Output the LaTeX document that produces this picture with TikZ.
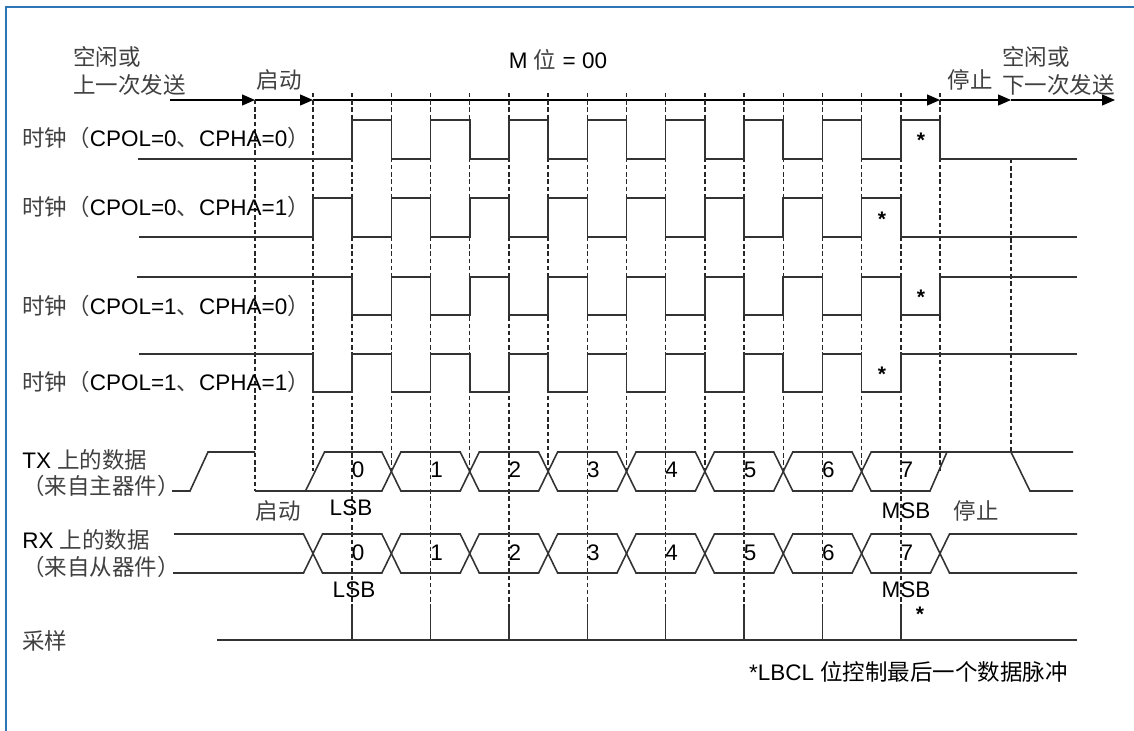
\documentclass[tikz,border=0pt]{standalone}
\usepackage{fontspec}
\setmainfont{Liberation Sans}
\newfontfamily\cjk{Noto Sans CJK SC}
\usetikzlibrary{arrows.meta}

\definecolor{frameblue}{RGB}{46,117,182}
\newcommand{\zh}[1]{{\cjk\color{black!75}#1}}
\newcommand{\edgex}[1]{313+39.1875*(#1)}

\begin{document}
\begin{tikzpicture}[
    x=0.02cm, y=-0.02cm,
    font=\fontsize{12.8}{15.9}\selectfont,
    text=black,
    >={Triangle[length=0.26cm, width=0.22cm]},
    wave/.style={line width=0.9pt, draw=black!80, line join=miter},
    guide/.style={line width=0.85pt, draw=black!85, dash pattern=on 2.5pt off 1.6pt},
    axisline/.style={->, line width=0.7pt, draw=black},
    lbl/.style={inner sep=0pt},
    bitnum/.style={inner sep=0pt},
    starmark/.style={inner sep=0pt, font=\fontsize{12}{14}\selectfont\bfseries},
]
\useasboundingbox (0,0) rectangle (1134,731);

% frame
\draw[line width=0.7pt, frameblue] (6,731) -- (6,7) -- (1134,7);

% ==================== TIME AXIS ====================
\coordinate (ax_idle)  at (170,100);
\coordinate (ax_start) at (255,100);
\coordinate (ax_bit0)  at (313,100);
\coordinate (ax_stop)  at (940,100);
\coordinate (ax_next)  at (1011,100);
\coordinate (ax_end)   at (1115,100);

\draw[axisline] (ax_idle) -- (ax_start);
\draw[axisline] (ax_start) -- (ax_bit0);
\draw[axisline] (ax_bit0) -- (ax_stop);
\draw[axisline] (ax_stop) -- (ax_next);
\draw[axisline] (ax_next) -- (ax_end);

% Top labels
\node[lbl, align=left, anchor=west] (idle_prev) at (73,71) {\zh{空闲或}\\\zh{上一次发送}};
\node[lbl] (start_top) at (279,80) {\zh{启动}};
\node[lbl] (mbit) at (558,60) {M \zh{位} = 00};
\node[lbl] (stop_top) at (970,80) {\zh{停止}};
\node[lbl, align=left, anchor=west] (idle_next) at (1002,71) {\zh{空闲或}\\\zh{下一次发送}};

% ==================== GUIDE LINES ====================
\foreach \k in {0,2,...,16}
    \draw[guide] ({\edgex{\k}},93) -- ({\edgex{\k}},471);
\foreach \k in {1,3,...,15} {
    \draw[guide] ({\edgex{\k}},93) -- ({\edgex{\k}},607);
    \draw[wave] ({\edgex{\k}},607) -- ({\edgex{\k}},640);
}
\draw[guide] (ax_start) -- (255,491);
\draw[guide] (1011,159) -- (1011,452);

% ==================== CLOCKS ====================
% CPOL=0, CPHA=0
\node[lbl, anchor=west] (clk_a) at (22,138) {\zh{时钟（}CPOL=0\zh{、}CPHA=0\zh{）}};
\draw[wave] (138,159) \foreach \i in {0,...,7} { -- ({\edgex{2*\i+1}},159) -- ({\edgex{2*\i+1}},120) -- ({\edgex{2*\i+2}},120) -- ({\edgex{2*\i+2}},159) } -- (1077,159);
\node[starmark] (star_a) at (921,140) {*};

% CPOL=0, CPHA=1
\node[lbl, anchor=west] (clk_b) at (22,207) {\zh{时钟（}CPOL=0\zh{、}CPHA=1\zh{）}};
\draw[wave] (139,237) \foreach \i in {0,...,7} { -- ({\edgex{2*\i}},237) -- ({\edgex{2*\i}},198) -- ({\edgex{2*\i+1}},198) -- ({\edgex{2*\i+1}},237) } -- (1077,237);
\node[starmark] (star_b) at (882,219) {*};

% CPOL=1, CPHA=0
\node[lbl, anchor=west] (clk_c) at (22,306) {\zh{时钟（}CPOL=1\zh{、}CPHA=0\zh{）}};
\draw[wave] (137,277) \foreach \i in {0,...,7} { -- ({\edgex{2*\i+1}},277) -- ({\edgex{2*\i+1}},315) -- ({\edgex{2*\i+2}},315) -- ({\edgex{2*\i+2}},277) } -- (1077,277);
\node[starmark] (star_c) at (921,297) {*};

% CPOL=1, CPHA=1
\node[lbl, anchor=west] (clk_d) at (22,382) {\zh{时钟（}CPOL=1\zh{、}CPHA=1\zh{）}};
\draw[wave] (139,354) \foreach \i in {0,...,7} { -- ({\edgex{2*\i}},354) -- ({\edgex{2*\i}},392) -- ({\edgex{2*\i+1}},392) -- ({\edgex{2*\i+1}},354) } -- (1077,354);
\node[starmark] (star_d) at (882,374) {*};

% ==================== TX DATA ====================
\node[lbl, anchor=west] (TX_label) at (22,460) {TX \zh{上的数据}};
\node[lbl, anchor=west] (TX_from) at (22,486) {\zh{（来自主器件）}};

\draw[wave] (172,491) -- (190,491) -- (208,452) -- (255,452);
% bit 0
\draw[wave] (255,491) -- ({\edgex{2}-9.5},491) -- ({\edgex{2}},471.5) -- ({\edgex{2}-9.5},452) -- (324.5,452) -- (305.5,491);
% bits 1..6
\foreach \j in {1,...,6}
    \draw[wave] ({\edgex{2*\j}},471.5) -- ({\edgex{2*\j}+9.5},452) -- ({\edgex{2*\j+2}-9.5},452) -- ({\edgex{2*\j+2}},471.5) -- ({\edgex{2*\j+2}-9.5},491) -- ({\edgex{2*\j}+9.5},491) -- cycle;
% bit 7 and stop
\draw[wave] (1073,452) -- ({\edgex{14}+9.5},452) -- ({\edgex{14}},471.5) -- ({\edgex{14}+9.5},491) -- (930,491) -- (947,452);
\draw[wave] (1011,452) -- (1030,491) -- (1073,491);

\foreach \j in {0,...,7}
    \node[bitnum] (TX_b\j) at ({\edgex{2*\j+1}+6},470) {\j};

\node[lbl] (TX_start) at (278,511) {\zh{启动}};
\node[lbl] (TX_lsb) at (351,508) {LSB};
\node[lbl] (TX_msb) at (906,511) {MSB};
\node[lbl] (TX_stop) at (976,511) {\zh{停止}};

% ==================== RX DATA ====================
\node[lbl, anchor=west] (RX_label) at (22,540) {RX \zh{上的数据}};
\node[lbl, anchor=west] (RX_from) at (22,567) {\zh{（来自从器件）}};

\draw[wave] (174,534) -- ({\edgex{0}-9.5},534) -- ({\edgex{0}},553.5) -- ({\edgex{0}-9.5},573) -- (173,573);
\foreach \j in {0,...,7}
    \draw[wave] ({\edgex{2*\j}},553.5) -- ({\edgex{2*\j}+9.5},534) -- ({\edgex{2*\j+2}-9.5},534) -- ({\edgex{2*\j+2}},553.5) -- ({\edgex{2*\j+2}-9.5},573) -- ({\edgex{2*\j}+9.5},573) -- cycle;
\draw[wave] (1077,534) -- ({\edgex{16}+9.5},534) -- ({\edgex{16}},553.5) -- ({\edgex{16}+9.5},573) -- (1077,573);

\foreach \j in {0,...,7}
    \node[bitnum] (RX_b\j) at ({\edgex{2*\j+1}+6},553) {\j};

\node[lbl] (RX_lsb) at (354,590) {LSB};
\node[lbl] (RX_msb) at (906,590) {MSB};
\node[starmark] (star_rx) at (920,614) {*};

% ==================== SAMPLING ====================
\node[lbl, anchor=west] (SMP_label) at (22,641) {\zh{采样}};
\draw[wave, line width=1.2pt] (217,640) -- (1077,640);

\node[lbl, anchor=east] (note) at (1068,672) {*LBCL {\cjk 位控制最后一个数据脉冲}};

\end{tikzpicture}
\end{document}
